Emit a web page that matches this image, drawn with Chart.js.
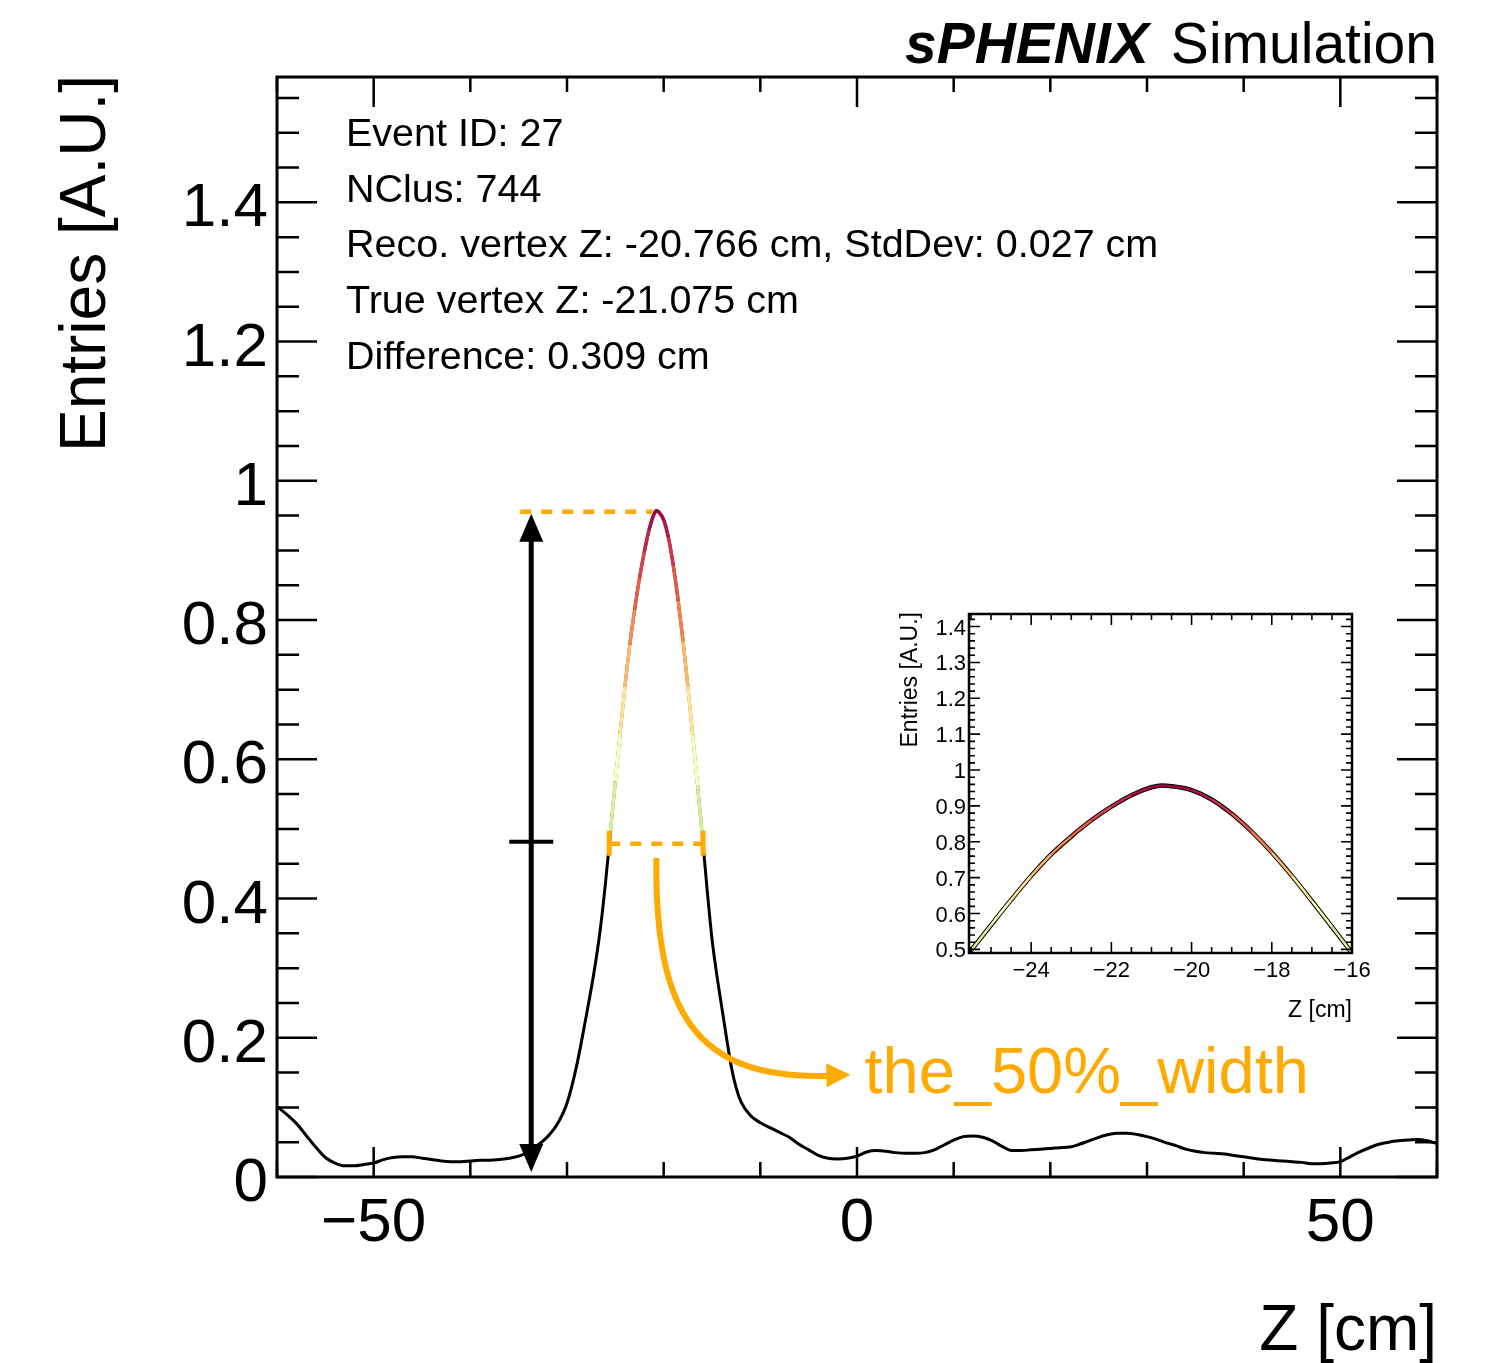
<!DOCTYPE html>
<html>
<head>
<meta charset="utf-8">
<script src="https://cdn.jsdelivr.net/npm/chart.js@4.4.0/dist/chart.umd.min.js"></script>
<style>
    html, body { margin: 0; padding: 0; background: #fff; }
    #wrap { position: relative; width: 1490px; height: 1363px; }
    #mainChart { position: absolute; left: 0; top: 0; }
    #insetChart { position: absolute; left: 880px; top: 600px; }
</style>
</head>
<body>
<div id="wrap">
    <canvas id="mainChart" width="1490" height="1363"></canvas>
    <canvas id="insetChart" width="500" height="430"></canvas>
</div>
<script>
// vertex-finder profile along Z
const zPos = [
    -60, -59, -58, -57, -56, -55, -54, -53, -52, -51, -50, -49, -48, -47, -46, -45,
    -44, -43, -42, -41, -40, -39, -38, -37, -36, -35, -34, -33, -32, -31, -30, -29, -28,
    -27.5, -27, -26.5, -26, -25.5, -25, -24.5, -24, -23.5, -23, -22.5, -22, -21.5, -21,
    -20.75, -20.5, -20, -19.5, -19, -18.5, -18, -17.5, -17, -16.5, -16, -15.5, -15,
    -14.5, -14, -13.5, -13, -12.5, -12, -11, -10, -9, -8, -7, -6, -5, -4, -3, -2, -1,
    0, 1, 2, 3, 4, 5, 6, 7, 8, 9, 10, 11, 12, 13, 14, 15, 16, 17, 18, 19, 20,
    21, 22, 23, 24, 25, 26, 27, 28, 29, 30, 31, 32, 33, 34, 35, 36, 37, 38, 39, 40,
    41, 42, 43, 44, 45, 46, 47, 48, 49, 50, 51, 52, 53, 54, 55, 56, 57, 58, 59, 60
];
const entries = [
    0.101, 0.090, 0.077, 0.060, 0.043, 0.028, 0.020, 0.016, 0.016, 0.018, 0.020, 0.025, 0.028, 0.029, 0.029, 0.027,
    0.025, 0.023, 0.022, 0.022, 0.023, 0.024, 0.024, 0.025, 0.027, 0.030, 0.036, 0.046, 0.058, 0.076, 0.106, 0.160, 0.232,
    0.270, 0.312, 0.362, 0.425, 0.497, 0.568, 0.638, 0.705, 0.765, 0.815, 0.860, 0.898, 0.930, 0.952,
    0.957, 0.955, 0.944, 0.918, 0.878, 0.828, 0.770, 0.705, 0.635, 0.563, 0.490, 0.412, 0.342,
    0.290, 0.245, 0.200, 0.158, 0.128, 0.108, 0.088, 0.078, 0.071, 0.064, 0.057, 0.047, 0.039, 0.031, 0.027, 0.026, 0.027,
    0.030, 0.036, 0.038, 0.037, 0.035, 0.034, 0.034, 0.035, 0.039, 0.046, 0.053, 0.058, 0.059, 0.057, 0.052, 0.044, 0.038, 0.038, 0.039, 0.040,
    0.041, 0.042, 0.043, 0.047, 0.052, 0.057, 0.061, 0.063, 0.063, 0.061, 0.058, 0.054, 0.049, 0.045, 0.040, 0.037, 0.035, 0.034, 0.033, 0.031, 0.029,
    0.027, 0.025, 0.024, 0.023, 0.022, 0.021, 0.019, 0.019, 0.020, 0.022, 0.029, 0.036, 0.042, 0.047, 0.050, 0.052, 0.053, 0.054, 0.052, 0.048
];

// tick labels
const mainXLabels = [-50, 0, 50];
const mainYLabels = [0, 0.2, 0.4, 0.6, 0.8, 1, 1.2, 1.4];
const insetXLabels = [-24, -22, -20, -18, -16];
const insetYLabels = [0.5, 0.6, 0.7, 0.8, 0.9, 1, 1.1, 1.2, 1.3, 1.4];

const infoLines = [
    'Event ID: 27',
    'NClus: 744',
    'Reco. vertex Z: -20.766 cm, StdDev: 0.027 cm',
    'True vertex Z: -21.075 cm',
    'Difference: 0.309 cm'
];

const arrowZ = -33.7;
const orange = '#ffaa00';
const FONT = '"Liberation Sans", Arial, Helvetica, sans-serif';
const spectral = ['#abdda4', '#e6f598', '#ffffbf', '#fee08b', '#fdae61', '#f46d43', '#d53e4f', '#9e0142'];

let mainChart;
let insetChart;

document.addEventListener('DOMContentLoaded', () => {
    init();
});

function init() {
    initMainChart();
    initInsetChart();
}

function peakInfo() {
    let iMax = 0;
    entries.forEach((v, i) => { if (v > entries[iMax]) iMax = i; });
    const half = entries[iMax] / 2;
    const cross = (i, j) => zPos[i] + (half - entries[i]) * (zPos[j] - zPos[i]) / (entries[j] - entries[i]);
    let l = iMax, r = iMax;
    while (l > 0 && entries[l - 1] >= half) l--;
    while (r < entries.length - 1 && entries[r + 1] >= half) r++;
    return { z: zPos[iMax], value: entries[iMax], half, left: cross(l - 1, l), right: cross(r, r + 1) };
}

function hexToRgb(h) {
    const n = parseInt(h.slice(1), 16);
    return [(n >> 16) & 255, (n >> 8) & 255, n & 255];
}

function spectralColor(t) {
    t = Math.min(1, Math.max(0, t));
    const f = t * (spectral.length - 1);
    const i = Math.min(Math.floor(f), spectral.length - 2);
    const a = hexToRgb(spectral[i]), b = hexToRgb(spectral[i + 1]);
    const k = f - i;
    return `rgb(${a.map((c, n) => Math.round(c + (b[n] - c) * k)).join(',')})`;
}

function curveData() {
    return zPos.map((z, i) => ({ x: z, y: entries[i] }));
}

function peakData(half) {
    return curveData().filter(p => p.y >= half);
}

function fmt(v) {
    return parseFloat(v.toFixed(3)).toString().replace('-', '\u2212');
}

function eachTick(min, max, step, fn) {
    const start = Math.ceil(min / step - 1e-6);
    for (let i = start; i * step <= max + 1e-6; i++) fn(i * step);
}

// ROOT-like frame: inward ticks on all four sides, labels and titles
function rootFrame(cfg) {
    return {
        id: 'rootFrame',
        afterDatasetsDraw(chart) {
            const { ctx, chartArea: a, scales: { x, y } } = chart;
            const isMajor = (v, labels) => labels.some(l => Math.abs(l - v) < 1e-6);
            ctx.save();
            ctx.strokeStyle = '#000';
            ctx.lineWidth = cfg.tickWidth;
            ctx.beginPath();
            eachTick(x.min, x.max, cfg.xStep, v => {
                const px = x.getPixelForValue(v);
                const len = isMajor(v, cfg.xLabels) ? cfg.xMajor : cfg.xMinor;
                ctx.moveTo(px, a.bottom); ctx.lineTo(px, a.bottom - len);
                ctx.moveTo(px, a.top); ctx.lineTo(px, a.top + len);
            });
            eachTick(y.min, y.max, cfg.yStep, v => {
                const py = y.getPixelForValue(v);
                const len = isMajor(v, cfg.yLabels) ? cfg.yMajor : cfg.yMinor;
                ctx.moveTo(a.left, py); ctx.lineTo(a.left + len, py);
                ctx.moveTo(a.right, py); ctx.lineTo(a.right - len, py);
            });
            ctx.stroke();
            ctx.lineWidth = cfg.frameWidth;
            ctx.strokeRect(a.left, a.top, a.right - a.left, a.bottom - a.top);

            ctx.fillStyle = '#000';
            ctx.font = cfg.labelSize + 'px ' + FONT;
            ctx.textBaseline = 'alphabetic';
            ctx.textAlign = 'center';
            cfg.xLabels.forEach(v => ctx.fillText(fmt(v), x.getPixelForValue(v), a.bottom + cfg.xLabelDy));
            ctx.textAlign = 'right';
            cfg.yLabels.forEach(v => ctx.fillText(fmt(v), a.left - cfg.yLabelDx, y.getPixelForValue(v) + cfg.yLabelDy));

            ctx.font = cfg.titleSize + 'px ' + FONT;
            ctx.fillText('Z [cm]', a.right, a.bottom + cfg.xTitleDy);
            ctx.translate(a.left - cfg.yTitleDx, a.top + cfg.yTitleDy);
            ctx.rotate(-Math.PI / 2);
            ctx.fillText('Entries [A.U.]', 0, 0);
            ctx.restore();
        }
    };
}

function arrowHead(ctx, tipX, tipY, dx, dy, len, halfW) {
    const nx = -dy, ny = dx;
    ctx.beginPath();
    ctx.moveTo(tipX, tipY);
    ctx.lineTo(tipX - dx * len + nx * halfW, tipY - dy * len + ny * halfW);
    ctx.lineTo(tipX - dx * len - nx * halfW, tipY - dy * len - ny * halfW);
    ctx.closePath();
    ctx.fill();
}

const annotations = {
    id: 'annotations',
    afterDatasetsDraw(chart) {
        const { ctx, chartArea: a, scales: { x, y } } = chart;
        const pk = peakInfo();
        const xa = x.getPixelForValue(arrowZ);
        const yTop = y.getPixelForValue(pk.value);
        const yBot = y.getPixelForValue(0);
        const yHalf = y.getPixelForValue(pk.half);
        const xPeak = x.getPixelForValue(pk.z);
        const xL = x.getPixelForValue(pk.left);
        const xR = x.getPixelForValue(pk.right);
        ctx.save();

        // black double arrow with a mark at half height
        ctx.strokeStyle = '#000';
        ctx.fillStyle = '#000';
        ctx.lineWidth = 5;
        ctx.beginPath();
        ctx.moveTo(xa, yTop + 25);
        ctx.lineTo(xa, yBot - 30);
        ctx.stroke();
        arrowHead(ctx, xa, yTop + 3, 0, -1, 28, 12);
        arrowHead(ctx, xa, yBot - 5, 0, 1, 28, 12);
        ctx.lineWidth = 4;
        ctx.beginPath();
        ctx.moveTo(xa - 22, yHalf - 2);
        ctx.lineTo(xa + 22, yHalf - 2);
        ctx.stroke();

        // orange dashed guides
        ctx.strokeStyle = orange;
        ctx.fillStyle = orange;
        ctx.lineWidth = 4.5;
        ctx.setLineDash([11, 10]);
        ctx.beginPath();
        ctx.moveTo(xa - 11, yTop + 1);
        ctx.lineTo(xPeak - 4, yTop + 1);
        ctx.moveTo(xL, yHalf);
        ctx.lineTo(xR, yHalf);
        ctx.stroke();
        ctx.setLineDash([]);
        ctx.lineWidth = 5;
        ctx.beginPath();
        ctx.moveTo(xL, yHalf - 13); ctx.lineTo(xL, yHalf + 12);
        ctx.moveTo(xR, yHalf - 13); ctx.lineTo(xR, yHalf + 12);
        ctx.stroke();

        // curved arrow to the label
        ctx.lineWidth = 6;
        ctx.beginPath();
        ctx.moveTo(xPeak, yHalf + 14);
        ctx.bezierCurveTo(xPeak - 2, yHalf + 170, xPeak + 40, yHalf + 236, xPeak + 172, yHalf + 232);
        ctx.stroke();
        arrowHead(ctx, xPeak + 194, yHalf + 231, 1, -0.02, 24, 12);
        ctx.font = '65px ' + FONT;
        ctx.textAlign = 'left';
        ctx.textBaseline = 'alphabetic';
        ctx.fillText('the_50%_width', xPeak + 208, yHalf + 249);

        // info block
        ctx.fillStyle = '#000';
        ctx.font = '39.5px ' + FONT;
        infoLines.forEach((t, i) => ctx.fillText(t, a.left + 69, a.top + 69 + i * 55.7));

        // header
        ctx.textAlign = 'right';
        ctx.font = '57px ' + FONT;
        ctx.fillText('Simulation', a.right, 63);
        const w = ctx.measureText('Simulation').width;
        ctx.font = 'italic bold 57px ' + FONT;
        ctx.fillText('sPHENIX', a.right - w - 22, 63);
        ctx.restore();
    }
};

function lineDatasets(half, blackWidth, colorWidth) {
    const pk = peakInfo();
    return [
        {
            data: peakData(half),
            borderWidth: colorWidth,
            borderColor: '#f46d43',
            pointRadius: 0,
            cubicInterpolationMode: 'monotone',
            order: 0,
            segment: {
                borderColor: c => spectralColor(((c.p0.parsed.y + c.p1.parsed.y) / 2 - half) / (pk.value - half))
            }
        },
        {
            data: curveData(),
            borderWidth: blackWidth,
            borderColor: '#000',
            pointRadius: 0,
            cubicInterpolationMode: 'monotone',
            order: 1
        }
    ];
}

function initMainChart() {
    const pk = peakInfo();
    const ctx = document.getElementById('mainChart').getContext('2d');
    mainChart = new Chart(ctx, {
        type: 'line',
        data: { datasets: lineDatasets(pk.half, 3, 3.5) },
        options: {
            responsive: false,
            animation: false,
            layout: { padding: { left: 277, right: 53, top: 77, bottom: 186 } },
            plugins: { legend: { display: false }, tooltip: { enabled: false } },
            scales: {
                x: { type: 'linear', min: -60, max: 60, display: false },
                y: { type: 'linear', min: 0, max: 1.58, display: false }
            }
        },
        plugins: [
            rootFrame({
                xStep: 10, yStep: 0.05, xLabels: mainXLabels, yLabels: mainYLabels,
                xMajor: 30, xMinor: 15, yMajor: 40, yMinor: 22,
                tickWidth: 2.5, frameWidth: 3,
                labelSize: 62, xLabelDy: 64, yLabelDx: 9, yLabelDy: 24,
                titleSize: 64, xTitleDy: 173, yTitleDx: 172, yTitleDy: -2
            }),
            annotations
        ]
    });
}

function initInsetChart() {
    const pk = peakInfo();
    const ctx = document.getElementById('insetChart').getContext('2d');
    insetChart = new Chart(ctx, {
        type: 'line',
        data: { datasets: lineDatasets(pk.half, 4.5, 2.5) },
        options: {
            responsive: false,
            animation: false,
            layout: { padding: { left: 89, right: 28, top: 14, bottom: 77 } },
            plugins: { legend: { display: false }, tooltip: { enabled: false } },
            scales: {
                x: { type: 'linear', min: -25.55, max: -16, display: false },
                y: { type: 'linear', min: 0.49, max: 1.435, display: false }
            }
        },
        plugins: [
            rootFrame({
                xStep: 0.5, yStep: 0.02, xLabels: insetXLabels, yLabels: insetYLabels,
                xMajor: 11, xMinor: 6, yMajor: 11, yMinor: 6,
                tickWidth: 1.6, frameWidth: 2.5,
                labelSize: 22, xLabelDy: 24, yLabelDx: 3, yLabelDy: 8,
                titleSize: 23, xTitleDy: 64, yTitleDx: 52, yTitleDy: -2
            })
        ]
    });
}
</script>
</body>
</html>
